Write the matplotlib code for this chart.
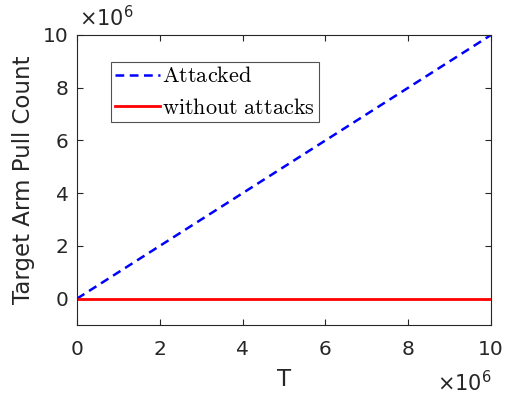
import numpy as np
import matplotlib
matplotlib.use('Agg')
import matplotlib.pyplot as plt
from matplotlib.ticker import FuncFormatter

plt.rcParams['mathtext.fontset'] = 'cm'

T = [0, 1e7]
attacked = [0, 1e7]
no_attack = [0, 0]
xticks = [0, 2e6, 4e6, 6e6, 8e6, 10e6]
yticks = [0, 2e6, 4e6, 6e6, 8e6, 10e6]

fig = plt.figure(figsize=(5.11, 3.97), dpi=100)
ax = fig.add_axes([77 / 511, 1 - 325 / 397, 414 / 511, 290 / 397])

ax.plot(T, attacked, 'b--', lw=1.8, dashes=(3.5, 2.2), label=r'$\mathrm{Attacked}$')
ax.plot(T, no_attack, 'r', lw=2, label=r'$\mathrm{without\ attacks}$')

ax.set_xlim(0, 1e7)
ax.set_ylim(-1e6, 1e7)
ax.set_xticks(xticks)
ax.set_yticks(yticks)
fmt = FuncFormatter(lambda v, p: '%g' % (v / 1e6))
ax.xaxis.set_major_formatter(fmt)
ax.yaxis.set_major_formatter(fmt)
ax.tick_params(direction='in', top=True, right=True, labelsize=14.5,
               colors='#262626', length=4, width=0.8)
ax.tick_params(axis='x', pad=11)
ax.tick_params(axis='y', pad=6)
for s in ax.spines.values():
    s.set_color('#262626')
    s.set_linewidth(0.8)

ax.set_xlabel('T', fontsize=16.5, color='#262626', labelpad=6)
ax.set_ylabel('Target Arm Pull Count', fontsize=16.5, color='#262626', labelpad=6)

fig.text(79 / 511, 1 - 18 / 397, r'$\times$10$^6$', fontsize=15, color='#262626',
         va='center', ha='left', math_fontfamily='dejavusans')
fig.text(492 / 511, 1 - 383 / 397, r'$\times$10$^6$', fontsize=15, color='#262626',
         va='center', ha='right', math_fontfamily='dejavusans')

leg = ax.legend(loc='upper left', bbox_to_anchor=(0.082, 0.907), fontsize=16,
                frameon=True, fancybox=False, edgecolor='#262626',
                handlelength=2.0, handletextpad=0.08, borderpad=0.2,
                labelspacing=0.5, borderaxespad=0)
leg.get_frame().set_linewidth(0.8)

fig.savefig('out.png', dpi=100)
